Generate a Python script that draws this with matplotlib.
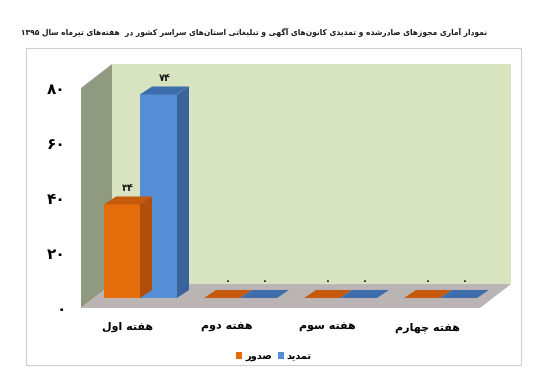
import re
import matplotlib
matplotlib.use("Agg")
import matplotlib.pyplot as plt
from matplotlib.patches import Polygon, Rectangle

plt.rcParams['font.family'] = ['DejaVu Sans']

# شکل‌های حروف: تنها، پایانی، آغازی، میانی
FORMS = {
    '\u0627': ('\uFE8D', '\uFE8E', None, None),
    '\u0622': ('\uFE81', '\uFE82', None, None),
    '\u062F': ('\uFEA9', '\uFEAA', None, None),
    '\u0631': ('\uFEAD', '\uFEAE', None, None),
    '\u0632': ('\uFEAF', '\uFEB0', None, None),
    '\u0648': ('\uFEED', '\uFEEE', None, None),
    '\u0628': ('\uFE8F', '\uFE90', '\uFE91', '\uFE92'),
    '\u062A': ('\uFE95', '\uFE96', '\uFE97', '\uFE98'),
    '\u062C': ('\uFE9D', '\uFE9E', '\uFE9F', '\uFEA0'),
    '\u0633': ('\uFEB1', '\uFEB2', '\uFEB3', '\uFEB4'),
    '\u0634': ('\uFEB5', '\uFEB6', '\uFEB7', '\uFEB8'),
    '\u0635': ('\uFEB9', '\uFEBA', '\uFEBB', '\uFEBC'),
    '\u063A': ('\uFECD', '\uFECE', '\uFECF', '\uFED0'),
    '\u0641': ('\uFED1', '\uFED2', '\uFED3', '\uFED4'),
    '\u0644': ('\uFEDD', '\uFEDE', '\uFEDF', '\uFEE0'),
    '\u0645': ('\uFEE1', '\uFEE2', '\uFEE3', '\uFEE4'),
    '\u0646': ('\uFEE5', '\uFEE6', '\uFEE7', '\uFEE8'),
    '\u0647': ('\uFEE9', '\uFEEA', '\uFEEB', '\uFEEC'),
    '\u06CC': ('\uFBFC', '\uFBFD', '\uFBFE', '\uFBFF'),
    '\u06A9': ('\uFB8E', '\uFB8F', '\uFB90', '\uFB91'),
    '\u06AF': ('\uFB92', '\uFB93', '\uFB94', '\uFB95'),
    '\u0686': ('\uFB7A', '\uFB7B', '\uFB7C', '\uFB7D'),
}


def fa(text):
    out = []
    for i, c in enumerate(text):
        if c not in FORMS:
            out.append(c)
            continue
        prev = text[i - 1] if i > 0 else ''
        nxt = text[i + 1] if i + 1 < len(text) else ''
        p = prev in FORMS and FORMS[prev][2] is not None
        n = nxt in FORMS and FORMS[c][2] is not None
        iso, fin, ini, med = FORMS[c]
        out.append(med if p and n else fin if p else ini if n else iso)
    s = ''.join(ch for ch in out if ch != '\u200c')
    runs = re.findall(r'[\u06F0-\u06F9]+|[^\u06F0-\u06F9]+', s)
    return ''.join(r if r[0].isdigit() else r[::-1] for r in reversed(runs))


def fa_num(v):
    return str(v).translate(str.maketrans('0123456789', '۰۱۲۳۴۵۶۷۸۹'))


title = 'نمودار آماری مجوزهای صادرشده و تمدیدی کانون\u200cهای آگهی و تبلیغاتی استان\u200cهای سراسر کشور در  هفته\u200cهای تیرماه سال ۱۳۹۵'
weeks = ['هفته اول', 'هفته دوم', 'هفته سوم', 'هفته چهارم']
issued = [34, 0, 0, 0]
renewed = [74, 0, 0, 0]
yticks = [0, 20, 40, 60, 80]

# عمق سه‌بعدی
DX, DY = 0.31, 8.7
OX, OY = 0.13, 3.65
BDX, BDY = 0.12, 2.9
x0, x1 = -0.46, 3.53

fig = plt.figure(figsize=(5.5, 3.9), dpi=100)
ax = fig.add_axes([81 / 550, 82 / 390, (480 - 81) / 550, 220 / 390])
ax.set_xlim(x0, x1)
ax.set_ylim(0, 80)
for s in ax.spines.values():
    s.set_visible(False)
ax.patch.set_alpha(0)

ax.add_patch(Polygon([(x0, 0), (x0 + DX, DY), (x0 + DX, 80 + DY), (x0, 80)],
                     closed=True, fc='#8f9a80', ec='none', clip_on=False, zorder=0))
ax.add_patch(Rectangle((x0 + DX, DY), x1 - x0, 80, fc='#d8e4bf', ec='none',
                       clip_on=False, zorder=0))
ax.add_patch(Polygon([(x0, 0), (x1, 0), (x1 + DX, DY), (x0 + DX, DY)],
                     closed=True, fc='#bab4b4', ec='none', clip_on=False, zorder=0))

xs = list(range(len(weeks)))
series = [
    (issued, 'صدور', -0.36, 0.36, '#e46c0a', '#c55a0c', '#b04f0a'),
    (renewed, 'تمدید', 0.0, 0.37, '#558ed5', '#3e6dab', '#3a639b'),
]
for vals, name, shift, w, c_front, c_top, c_side in series:
    bars = ax.bar([x + shift + OX for x in xs], vals, width=w, bottom=OY, align='edge',
                  color=c_front, label=fa(name), zorder=2, clip_on=False)
    for b, v in zip(bars, vals):
        l, r = b.get_x(), b.get_x() + b.get_width()
        top = OY + v
        ax.add_patch(Polygon([(l, top), (r, top), (r + BDX, top + BDY), (l + BDX, top + BDY)],
                             closed=True, fc=c_top, ec='none', zorder=3, clip_on=False))
        if v > 0:
            ax.add_patch(Polygon([(r, OY), (r + BDX, OY + BDY), (r + BDX, top + BDY), (r, top)],
                                 closed=True, fc=c_side, ec='none', zorder=3, clip_on=False))
        ax.text((l + r) / 2 + BDX / 2, top + BDY + 3.2, fa_num(v), ha='center', va='center',
                fontsize=7, fontweight='bold', color='#1a1a1a', zorder=4)

ax.set_yticks(yticks)
ax.set_yticklabels([fa_num(v) for v in yticks], fontsize=11, fontweight='bold')
ax.set_xticks(xs)
ax.set_xticklabels([fa(w) for w in weeks], fontsize=8, fontweight='bold')
ax.tick_params(axis='y', length=0, pad=11)
ax.tick_params(axis='x', length=0, pad=10)

ax.legend(loc='center', bbox_to_anchor=(274 / 550, 1 - 356 / 390), bbox_transform=fig.transFigure,
          ncol=2, frameon=False, prop={'weight': 'bold', 'size': 7},
          handlelength=0.6, handleheight=0.6, handletextpad=0.3, columnspacing=0.6)

t = fig.text(254 / 550, 1 - 32 / 390, fa(title), ha='center', va='center',
             fontsize=8.5, fontweight='bold', color='#1a1a1a')
# عنوان را به پهنای حدود ۴۶۵ پیکسل می‌رسانیم
width = t.get_window_extent(fig.canvas.get_renderer()).width
t.set_fontsize(8.5 * 465 / width)

fig.add_artist(Rectangle((26 / 550, 1 - 365 / 390), (521 - 26) / 550, (365 - 48) / 390,
                         transform=fig.transFigure, fill=False, ec='#cfcfcf', lw=0.8))

fig.savefig('out.png', dpi=100)
